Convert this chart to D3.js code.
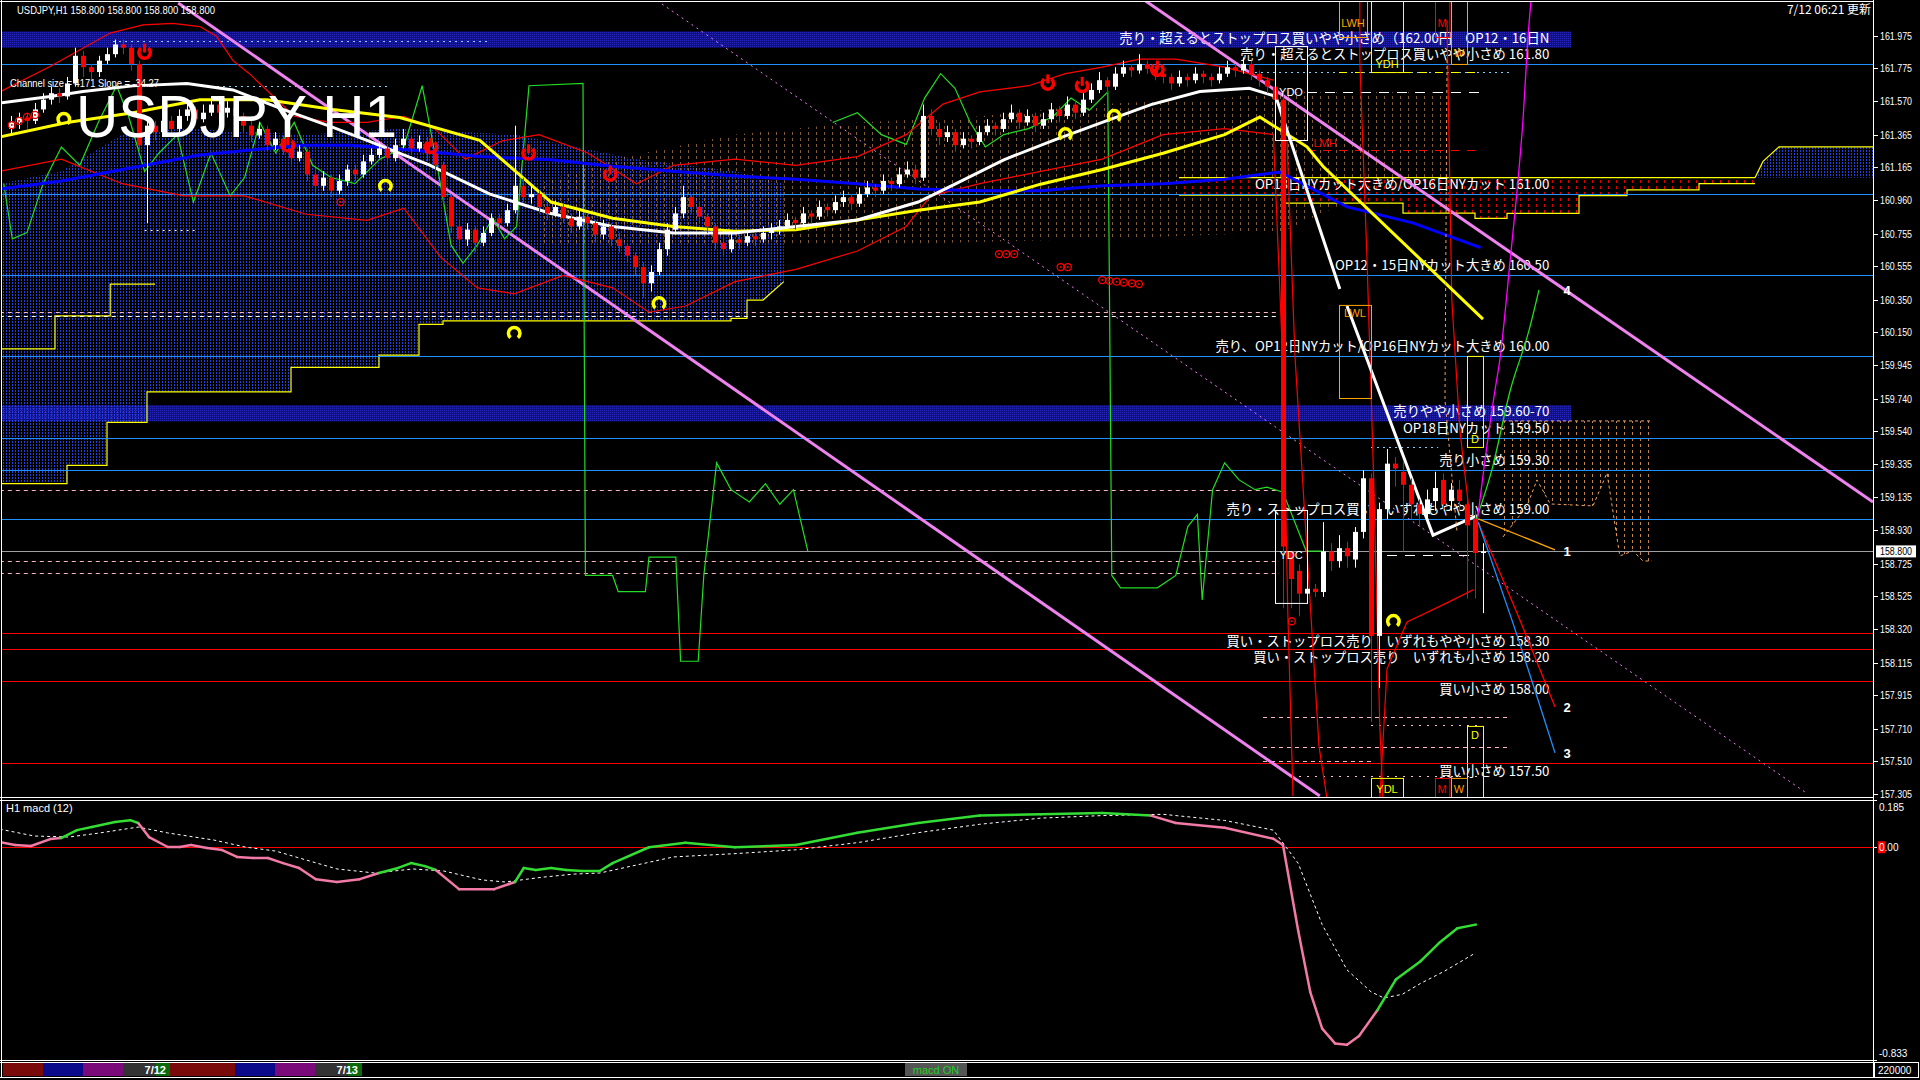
<!DOCTYPE html>
<html><head><meta charset="utf-8">
<script src="https://cdn.jsdelivr.net/npm/d3@7"></script>
<style>html,body{margin:0;padding:0;background:#000;overflow:hidden}svg{display:block}</style>
</head><body>
<svg id="c" width="1920" height="1080"></svg>
<script>
// ===================== DATA =====================
const symbolHeader = "USDJPY,H1  158.800 158.800 158.800 158.800";
const updateText = "7/12 06:21 更新";
const titleText = "USDJPY H1";
const channelText = "Channel size = 4171 Slope = -34.27";
const macdTitle = "H1  macd (12)";
const lastPrice = 158.800;
const priceTicks = [161.975,161.775,161.570,161.365,161.165,160.960,160.755,160.555,160.350,160.150,159.945,159.740,159.540,159.335,159.135,158.930,158.725,158.525,158.320,158.115,157.915,157.710,157.510,157.305];
const macdTicks = [0.185, 0.00, -0.833];
const volLabel = "220000";

// H1 candles [open, high, low, close]
const candles = [
[161.40,161.48,161.36,161.44],[161.44,161.50,161.40,161.47],[161.47,161.50,161.40,161.45],[161.45,161.56,161.43,161.52],
[161.52,161.62,161.50,161.58],[161.58,161.66,161.55,161.62],[161.62,161.65,161.56,161.60],[161.60,161.72,161.58,161.68],
[161.68,161.90,161.66,161.85],[161.85,161.88,161.72,161.78],[161.78,161.80,161.70,161.75],[161.75,161.85,161.72,161.82],
[161.82,161.90,161.80,161.86],[161.86,161.95,161.84,161.92],[161.92,161.95,161.86,161.90],[161.90,161.92,161.76,161.80],
[161.80,161.82,161.25,161.30],[161.30,161.46,160.82,161.42],[161.42,161.45,161.33,161.38],[161.38,161.50,161.35,161.45],
[161.45,161.48,161.36,161.40],[161.40,161.52,161.38,161.48],[161.48,161.56,161.45,161.52],[161.52,161.54,161.42,161.46],
[161.46,161.55,161.44,161.50],[161.50,161.60,161.48,161.55],[161.55,161.58,161.46,161.50],[161.50,161.57,161.47,161.53],
[161.53,161.56,161.44,161.48],[161.48,161.50,161.38,161.42],[161.42,161.45,161.32,161.36],[161.36,161.44,161.34,161.40],
[161.40,161.42,161.26,161.30],[161.30,161.38,161.27,161.34],[161.34,161.36,161.24,161.28],[161.28,161.30,161.18,161.22],
[161.22,161.30,161.20,161.26],[161.26,161.28,161.08,161.12],[161.12,161.15,161.00,161.05],[161.05,161.14,161.02,161.10],
[161.10,161.12,160.98,161.02],[161.02,161.12,161.00,161.08],[161.08,161.18,161.05,161.15],[161.15,161.18,161.08,161.12],
[161.12,161.24,161.10,161.20],[161.20,161.28,161.18,161.24],[161.24,161.32,161.22,161.28],[161.28,161.30,161.18,161.22],
[161.22,161.34,161.20,161.30],[161.30,161.40,161.28,161.34],[161.34,161.36,161.24,161.28],[161.28,161.36,161.26,161.32],
[161.32,161.35,161.20,161.25],[161.25,161.28,161.12,161.18],[161.18,161.20,160.94,160.98],[160.98,161.00,160.76,160.80],
[160.80,160.84,160.66,160.72],[160.72,160.82,160.68,160.78],[160.78,160.80,160.64,160.70],[160.70,160.80,160.68,160.76],
[160.76,160.88,160.74,160.85],[160.85,160.88,160.78,160.82],[160.82,160.94,160.80,160.90],[160.90,161.42,160.88,161.05],
[161.05,161.10,160.95,160.98],[160.98,161.06,160.94,161.00],[161.00,161.02,160.88,160.92],[160.92,160.95,160.84,160.88],
[160.88,160.96,160.86,160.92],[160.92,160.94,160.82,160.85],[160.85,160.88,160.76,160.80],[160.80,160.90,160.78,160.86],
[160.86,160.88,160.78,160.82],[160.82,160.84,160.70,160.75],[160.75,160.84,160.72,160.80],[160.80,160.82,160.68,160.72],
[160.72,160.76,160.64,160.68],[160.68,160.70,160.58,160.62],[160.62,160.64,160.50,160.55],[160.55,160.58,160.36,160.45],
[160.45,160.56,160.40,160.52],[160.52,160.70,160.50,160.66],[160.66,160.82,160.62,160.78],[160.78,160.92,160.75,160.88],
[160.88,161.05,160.85,160.98],[160.98,161.00,160.88,160.92],[160.92,160.95,160.82,160.86],[160.86,160.88,160.76,160.80],
[160.80,160.82,160.66,160.70],[160.70,160.74,160.62,160.66],[160.66,160.76,160.64,160.72],[160.72,160.75,160.66,160.70],
[160.70,160.78,160.68,160.74],[160.74,160.76,160.68,160.72],[160.72,160.80,160.70,160.76],[160.76,160.82,160.72,160.78],
[160.78,160.84,160.75,160.80],[160.80,160.88,160.78,160.84],[160.84,160.86,160.78,160.82],[160.82,160.92,160.80,160.88],
[160.88,160.90,160.82,160.86],[160.86,160.96,160.84,160.92],[160.92,160.94,160.86,160.90],[160.90,160.99,160.88,160.95],
[160.95,161.02,160.92,160.98],[160.98,161.00,160.90,160.94],[160.94,161.04,160.92,161.00],[161.00,161.08,160.98,161.04],
[161.04,161.06,160.98,161.02],[161.02,161.12,161.00,161.08],[161.08,161.10,161.02,161.06],[161.06,161.16,161.04,161.12],
[161.12,161.20,161.10,161.15],[161.15,161.18,161.06,161.10],[161.10,161.55,161.08,161.48],[161.48,161.52,161.36,161.40],
[161.40,161.44,161.30,161.35],[161.35,161.42,161.32,161.38],[161.38,161.40,161.26,161.30],[161.30,161.38,161.28,161.34],
[161.34,161.36,161.28,161.32],[161.32,161.42,161.30,161.38],[161.38,161.46,161.36,161.42],[161.42,161.44,161.36,161.40],
[161.40,161.50,161.38,161.46],[161.46,161.55,161.44,161.50],[161.50,161.52,161.40,161.44],[161.44,161.52,161.42,161.48],
[161.48,161.50,161.38,161.42],[161.42,161.50,161.40,161.46],[161.46,161.56,161.44,161.52],[161.52,161.54,161.44,161.48],
[161.48,161.60,161.46,161.55],[161.55,161.57,161.46,161.50],[161.50,161.62,161.48,161.58],[161.58,161.68,161.56,161.64],
[161.64,161.75,161.62,161.70],[161.70,161.72,161.62,161.66],[161.66,161.78,161.64,161.74],[161.74,161.82,161.72,161.78],
[161.78,161.80,161.72,161.76],[161.76,161.86,161.74,161.80],[161.80,161.82,161.74,161.77],[161.77,161.79,161.70,161.74],
[161.74,161.76,161.68,161.72],[161.72,161.74,161.64,161.68],[161.68,161.76,161.66,161.72],[161.72,161.74,161.66,161.70],
[161.70,161.78,161.68,161.74],[161.74,161.76,161.68,161.72],[161.72,161.74,161.66,161.70],[161.70,161.78,161.68,161.74],
[161.74,161.82,161.72,161.78],[161.78,161.80,161.72,161.76],[161.76,161.84,161.74,161.80],[161.80,161.82,161.70,161.74],
[161.74,161.76,161.66,161.70],[161.70,161.72,161.62,161.66],[161.66,161.68,161.54,161.58],[161.58,161.62,158.45,158.83],
[158.80,158.80,158.45,158.63],[158.68,158.72,158.40,158.54],[158.54,158.60,158.50,158.57],[158.57,158.60,158.52,158.55],
[158.55,158.98,158.52,158.80],[158.80,158.85,158.68,158.74],[158.74,158.90,158.70,158.82],[158.82,158.86,158.70,158.77],
[158.75,158.95,158.70,158.92],[158.92,159.30,158.88,159.25],[159.25,159.28,157.75,158.28],[158.28,159.10,157.96,159.06],
[159.06,159.43,159.00,159.34],[159.34,159.38,159.20,159.31],[159.29,159.35,158.80,159.21],[159.21,159.25,159.00,159.09],
[159.09,159.12,158.95,159.03],[159.03,159.18,158.98,159.12],[159.11,159.29,159.05,159.19],[159.24,159.28,159.05,159.09],
[159.11,159.22,159.05,159.18],[159.18,159.24,159.05,159.11],[159.09,159.12,158.51,158.96],[159.00,159.05,158.51,158.79],
[158.79,158.85,158.42,158.80]
];

// moving averages [barIndex, price]
const whiteMA = [[-1.4,161.56],[4.9,161.60],[9,161.63],[15.25,161.665],[22,161.68],[27.75,161.64],[34,161.52],[40.25,161.41],[44.5,161.33],[48.6,161.25],[52.2,161.18],[59.8,161.0],[67.5,160.88],[75.2,160.80],[82.8,160.76],[90.5,160.76],[98.1,160.80],[105.8,160.84],[113.4,160.95],[118,161.06],[124.1,161.21],[130.3,161.33],[136.4,161.44],[142.5,161.55],[148.6,161.63],[154.8,161.65],[157.8,161.605],[158.25,161.578],[166.1,160.415]];
const whiteZig = [[167,160.31],[177.75,158.90],[183.25,159.02]];
const yellowMA = [[-1.4,161.35],[7,161.44],[15.25,161.50],[23.6,161.58],[32,161.58],[40.25,161.52],[48.6,161.47],[58.6,161.33],[67.5,160.95],[75.2,160.85],[82.8,160.80],[90.5,160.77],[98.1,160.78],[105.8,160.84],[113.4,160.9],[121.1,160.95],[128.7,161.06],[136.4,161.15],[144,161.25],[151.7,161.365],[156.1,161.473],[162,161.29],[164,161.17],[184,160.23]];
const blueMA = [[-1.4,161.03],[6.3,161.08],[13.9,161.15],[23.6,161.24],[36.1,161.30],[42.4,161.30],[50,161.27],[58.6,161.23],[67.5,161.21],[75.2,161.17],[82.8,161.14],[90.5,161.11],[98.1,161.09],[105.8,161.063],[113.4,161.03],[121.1,161.02],[128.7,161.02],[136.4,161.05],[144,161.063],[151.7,161.09],[158.6,161.135],[167,160.92],[175.2,160.822],[183.7,160.67]];

// red envelope lines
const redUpper = [[-1.4,161.628],[4.7,161.78],[12.4,161.99],[16.5,162.04],[20.2,162.05],[23.6,162.03],[25.7,161.97],[27.75,161.82],[29.8,161.74],[35.4,161.478],[39.9,161.44],[44.5,161.44],[49.1,161.478],[53,161.40],[56.8,161.214],[61.4,161.327],[66,161.365],[72.1,161.252],[78.2,161.063],[82.8,161.176],[90.5,161.214],[98.1,161.176],[105.8,161.23],[111.9,161.365],[116.5,161.553],[121.1,161.628],[127.2,161.666],[131.8,161.74],[136.4,161.78],[141,161.83],[145.6,161.83],[151.7,161.78],[157.8,161.70]];
const redLower = [[-1.4,161.139],[6.3,161.214],[13.9,161.063],[21.6,160.988],[29.2,160.988],[36.9,160.875],[44.5,160.837],[49.1,160.912],[53.7,160.611],[58.3,160.422],[62.9,160.385],[69,160.498],[75.2,160.422],[79.75,160.272],[84.3,160.31],[90.5,160.46],[98.1,160.536],[105.8,160.649],[111.9,160.80],[114.95,160.988],[121.1,161.063],[128.7,161.139],[136.4,161.214],[144,161.365],[151.7,161.402],[157.8,161.365],[159,159.933],[159.6,158.426],[160.25,157.295]];
const redPost1 = [[159.5,161.33],[160.5,160.0],[162,158.8],[163.5,157.6],[164.5,157.28]];
const redPost2 = [[168.6,162.19],[168.6,161.825],[169.5,160.6],[170.3,159.3],[171.1,157.726],[171.5,157.27]];
const redPost3 = [[171.1,157.27],[172,158.077],[174.5,158.366],[179.5,158.483],[182.75,158.563]];
const redPost4 = [[179.5,162.07],[180.1,160.35],[181.1,159.55],[182.4,158.99]];

// trend lines
const trendA = [[20.9,162.175],[163.6,157.295]];
const trendB = [[141.75,162.19],[232.75,159.104]];
const trendC = [[80.75,162.19],[224.4,157.314]];

// green lagging lines
const green1 = [[-0.9,161.063],[0.16,160.724],[2.0,160.762],[4.0,161.063],[6.3,161.289],[8.6,161.176],[10.9,161.44],[13.2,161.666],[14.7,161.478],[16.7,161.139],[18.5,161.252],[20.8,161.365],[22.8,160.95],[25,161.252],[27.4,160.988],[29.2,161.101],[31.1,161.44],[33.1,161.252],[35.4,161.44],[37.7,161.176],[40,161.101],[43,161.063],[46.1,161.214],[49.1,161.289],[51.4,161.666],[53.4,161.139],[55,160.686],[56.5,160.573],[58.3,160.686],[60.2,160.852],[61.7,160.724],[63.2,160.8],[64.75,161.666],[71.5,161.68],[71.8,158.652],[75.2,158.652],[75.9,158.553],[79.3,158.553],[79.75,158.765],[83.1,158.765],[83.7,158.124],[85.9,158.124],[86.6,158.652],[88.2,159.345],[90,159.18],[92.3,159.104],[94.3,159.217],[96.1,159.09],[97.8,159.18],[99.6,158.802]];
const green2 = [[102.7,161.44],[105.8,161.5],[108.8,161.365],[111.9,161.305],[114.2,161.59],[116.2,161.74],[118,161.65],[119.9,161.44],[121.8,161.289],[124.1,161.365],[127.2,161.402],[130.3,161.478],[132.5,161.59],[134.8,161.515],[137.1,161.628],[137.6,158.652],[138.7,158.576],[143.3,158.576],[145.6,158.652],[147.1,158.953],[148.3,159.028],[148.9,158.501],[150.2,159.18],[151.7,159.345],[153.5,159.24],[155.5,159.18],[157,159.195],[159,159.164],[161.9,158.802],[163.9,158.802]];

// projections from last bar
const projOrange = [[183.4,159.0],[193,158.81]];
const projRed = [[183.4,158.98],[188.6,158.38],[193,157.843]];
const projBlue = [[183.4,158.98],[187.6,158.38],[193,157.56]];
const projGreen = [[183,158.975],[185.1,159.30],[187.4,159.79],[189.75,160.16],[191,160.41]];
const projMagenta = [[183.25,158.975],[184.25,159.363],[185.5,159.793],[186.1,159.978],[187.4,160.594],[188.6,161.21],[189,161.455],[189.6,161.947],[190,162.19]];
const projPeach = [[179.5,161.824],[179.25,159.73],[180.75,158.92]];
const projLabels = [[194.5,158.80,"1"],[194.5,157.843,"2"],[194.5,157.56,"3"],[194.5,160.41,"4"]];

// clouds
const blueCloudTop = [[-1.4,161.063],[6.3,161.139],[13.9,161.365],[21.6,161.402],[36.9,161.365],[49.1,161.402],[62.9,161.365],[78.2,161.214],[90.5,161.139],[96.6,161.063]];
const blueCloudBot = [[-1.4,159.217],[7,159.217],[7,159.33],[12,159.33],[12,159.594],[17,159.594],[17,159.782],[35,159.782],[35,159.933],[46,159.933],[46,160.008],[51,160.008],[51,160.197],[54,160.197],[54,160.219],[90,160.219],[90,160.234],[92,160.234],[92,160.347],[94,160.347],[96.6,160.46]];
const kijunLeft = [[-1.4,160.046],[5.5,160.046],[5.5,160.25],[12.4,160.25],[12.4,160.445],[18,160.445]];
const peachCloudTop = [[66,161.063],[75.2,161.214],[90.5,161.365],[105.8,161.44],[121.1,161.478],[136.4,161.553],[151.7,161.59],[158.6,161.628],[179.2,161.628]];
const peachCloudBot = [[66,160.686],[105.8,160.686],[136.4,160.724],[158.6,160.762],[167,160.95],[179.2,160.95]];
const futureRedTop = [[146,161.10],[218,161.10]];
const futureRedBot = [[146,160.993],[159,160.993],[159,160.944],[174,160.944],[174,160.882],[183,160.882],[183,160.85],[187,160.85],[187,160.88],[196,160.88],[196,160.99],[202,160.99],[202,161.025],[211,161.025],[211,161.063],[218,161.063]];
const futureBlueTop = [[218,161.10],[219,161.20],[221,161.29],[233,161.29]];
const futureBlueBot = [[218,161.10],[233,161.10]];
const lowerPeachTop = [[186.5,159.603],[205.1,159.603]];
const lowerPeachBot = [[186.5,158.889],[189.5,159.08],[190.75,159.24],[192.4,159.092],[197.75,159.08],[199.5,159.283],[201.1,158.772],[202.75,158.803],[204,158.741],[205.1,158.741]];

// horizontal levels
const blueLevels = [161.80,161.00,160.50,160.00,159.50,159.30,159.00];
const redLevels = [158.30,158.20,158.00,157.50];
const bands = [[161.90,162.00],[159.60,159.70]];
const bandEnd = 195;
const levelLabels = [
 [161.90,"売り・超えるとストップロス買いやや小さめ（162.00円　OP12・16日N"],
 [161.80,"売り・超えるとストップロス買いやや小さめ 161.80"],
 [161.00,"OP18日NYカット大きめ/OP16日NYカット 161.00"],
 [160.50,"OP12・15日NYカット大きめ 160.50"],
 [160.00,"売り、OP12日NYカット/OP16日NYカット大きめ 160.00"],
 [159.60,"売りやや小さめ 159.60-70"],
 [159.50,"OP18日NYカット 159.50"],
 [159.30,"売り小さめ 159.30"],
 [159.00,"売り・ストップロス買い　いずれもやや小さめ 159.00"],
 [158.30,"買い・ストップロス売り　いずれもやや小さめ 158.30"],
 [158.20,"買い・ストップロス売り　いずれも小さめ 158.20"],
 [158.00,"買い小さめ 158.00"],
 [157.50,"買い小さめ 157.50"]
];
const labelEndBar = 192.3;
// dashed horizontal segments [price, fromBar, toBar, color, dash]
const dashSegs = [
 [160.274,-1.4,158.6,"#ffb6c1","4,4"],[160.25,-1.4,158.6,"#ffffff","4,4"],[159.18,-1.4,158.6,"#ffb6c1","4,4"],
 [158.74,-1.4,158.6,"#ffb6c1","4,4"],[158.667,-1.4,158.6,"#ffb6c1","4,4"],
 [157.781,156.5,187.4,"#ffb6c1","4,4"],[157.597,156.5,187.4,"#ffb6c1","4,4"],[157.51,156.5,170,"#ffb6c1","4,4"],
 [157.73,170,184,"#ffc0cb","2,6"],[157.418,160,184,"#ffc0cb","2,6"],
 [161.94,12.75,60,"#87cefa","2,4"],[161.664,25.75,47,"#87cefa","2,4"],[160.777,16.7,23,"#ffffff","2,4"],
 [161.75,155.5,187.4,"#87cefa","2,4"],[161.75,166,184,"#ffff00","8,8"],[161.627,162,184,"#ffffff","10,8"],
 [161.27,162,183.5,"#ff0000","8,8"],[159.44,170,178.4,"#87cefa","2,4"],[158.778,172,183,"#ffffff","10,8"]
];
// boxes [fromBar, toBar, topPrice, bottomPrice, color, label, labelPrice]
const boxes = [
 [158,162,161.91,161.332,"#ffffff","YDO",161.63],
 [170,174,162.19,161.75,"#ffff00","YDH",161.80],
 [166,169.5,162.19,161.966,"#ffa500","LWH",162.05],
 [178,179.8,162.19,161.966,"#ff0000","M",162.05],
 [180,182,162.19,161.80,"#ffa500","W",161.87],
 [166,170,160.317,159.744,"#ffa500","LWL",160.27],
 [182,184,160.003,159.443,"#ffff00","D",159.49],
 [158,162,159.055,158.483,"#ffffff","YDC",158.778],
 [182,184,157.726,157.27,"#ffff00","D",157.67],
 [170,174,157.406,157.27,"#ffff00","YDL",157.34],
 [178,179.8,157.406,157.27,"#ff0000","M",157.34],
 [180,182,157.406,157.27,"#ffa500","W",157.34]
];
const textMarks = [[164.25,161.314,"LMH","#ff0000"]];
// signal markers [bar, price]
const yellowMarks = [[6.6,161.46],[46.8,161.048],[62.9,160.143],[81,160.325],[131.8,161.365],[137.9,161.478],[172.8,158.37]];
const redMarks = [[16.7,161.87],[34.6,161.30],[52.5,161.29],[64.7,161.25],[74.9,161.12],[129.6,161.68],[133.9,161.665],[143.3,161.765]];
const redDots = [[0.1,161.424],[1,161.449],[2,161.474],[3,161.486],[41.2,160.95],[123.5,160.63],[124.4,160.63],[125.4,160.63],[131.2,160.55],[132.1,160.55],[136.4,160.47],[137.3,160.465],[138.2,160.46],[139.1,160.455],[140.1,160.45],[141,160.445],[160.1,158.37]];

// MACD [bar, value]
const macdMain = [[-1.4,0.020],[0.5,0.009],[2.5,0.005],[4.9,0.032],[6.25,0.036],[8.25,0.067],[10.1,0.079],[13,0.099],[14.9,0.106],[15.9,0.095],[17.25,0.040],[19.6,0.001],[21.1,0.001],[22.5,0.009],[24.5,-0.003],[26.4,-0.011],[28.25,-0.038],[30.25,-0.042],[32.1,-0.042],[34,-0.062],[36,-0.081],[38.1,-0.125],[40.75,-0.136],[43.6,-0.125],[46,-0.101],[48.4,-0.081],[50,-0.062],[51.75,-0.074],[53.1,-0.089],[56,-0.164],[60.4,-0.164],[62.25,-0.144],[63,-0.136],[64.1,-0.081],[65.6,-0.089],[67.5,-0.081],[69.4,-0.089],[71.4,-0.093],[73.6,-0.093],[75.2,-0.062],[79.75,0.0],[84.3,0.018],[90.5,0.0],[98.1,0.009],[105.8,0.057],[113.4,0.095],[121.1,0.124],[128.7,0.129],[136.4,0.134],[142.5,0.124],[145.6,0.095],[151.7,0.076],[157.8,0.033],[159,0.009],[160.9,-0.327],[162.4,-0.566],[163.9,-0.71],[165.5,-0.768],[167,-0.773],[168.5,-0.739],[170.8,-0.638],[173.1,-0.518],[176.2,-0.446],[178.5,-0.375],[180.8,-0.317],[183.1,-0.303]];
const macdSignal = [[-1.4,0.071],[2.9,0.044],[7.25,0.040],[11.1,0.056],[15.9,0.079],[19.6,0.056],[25.4,0.028],[29.25,0.001],[33.1,-0.015],[36.9,-0.05],[40.75,-0.085],[45.5,-0.101],[50.25,-0.085],[54.1,-0.093],[58.9,-0.128],[61.75,-0.136],[66.5,-0.117],[70.4,-0.105],[73.6,-0.101],[82.8,-0.038],[90.5,-0.025],[98.1,-0.010],[105.8,0.018],[113.4,0.057],[121.1,0.09],[128.7,0.114],[136.4,0.124],[144,0.129],[151.7,0.105],[157.8,0.067],[160.9,-0.063],[163.9,-0.303],[167,-0.48],[170,-0.566],[171.6,-0.59],[173.9,-0.576],[176.2,-0.533],[179.2,-0.485],[183.1,-0.413]];

// bottom session bar [label, color, width-units]
const sessionCells = [["","#7a0a0a",40],["","#0a0a8a",40],["","#7a0a7a",40],["7/12","#333333",47],["","#7a0a0a",65],["","#0a0a8a",40],["","#7a0a7a",40],["7/13","#333333",47]];

// ===================== RENDER =====================
const svg = d3.select("#c");
const PR = 1873, PB = 797;
const x = d3.scaleLinear().domain([-1.375, 232.75]).range([0, PR]);
const y = d3.scaleLinear().domain([157.2885, 162.1935]).range([PB, 0]);
const ym = d3.scaleLinear().domain([-0.833, 0.185]).range([1060, 800]);
const line = d3.line().x(d=>x(d[0])).y(d=>y(d[1]));
const poly = (top,bot)=> line(top.concat(bot.slice().reverse())) + "Z";
const JP = "'Noto Sans CJK JP','Noto Sans',sans-serif";
const SANS = "'Liberation Sans',Arial,sans-serif";

svg.append("rect").attr("width",1920).attr("height",1080).attr("fill","#000");
const defs = svg.append("defs");
defs.append("clipPath").attr("id","cm").append("rect").attr("x",2).attr("y",2).attr("width",PR-2).attr("height",PB-2);
defs.append("clipPath").attr("id","cmacd").append("rect").attr("x",2).attr("y",801).attr("width",PR-2).attr("height",259);
function pattern(id,w,h,color,rw,rh){
  const p = defs.append("pattern").attr("id",id).attr("patternUnits","userSpaceOnUse").attr("width",w).attr("height",h);
  p.append("rect").attr("width",rw).attr("height",rh).attr("fill",color);
}
pattern("blueDots",3,3,"#1f3fe0",1,2);
pattern("peachDash",8,6,"#f4a460",1,3);
pattern("redDash",8,6,"#e00000",1,3);
pattern("bandDots",2,2,"#2626b8",1,1);

const g = svg.append("g").attr("clip-path","url(#cm)");

// bands
bands.forEach(b=>{
  g.append("rect").attr("x",x(-1.375)).attr("y",y(b[1])).attr("width",x(bandEnd)-x(-1.375)).attr("height",y(b[0])-y(b[1])).attr("fill","#10107e");
  g.append("rect").attr("x",x(-1.375)).attr("y",y(b[1])).attr("width",x(bandEnd)-x(-1.375)).attr("height",y(b[0])-y(b[1])).attr("fill","url(#bandDots)");
});
// clouds
g.append("path").attr("d",poly(blueCloudTop,blueCloudBot)).attr("fill","url(#blueDots)");
g.append("path").attr("d",poly(peachCloudTop,peachCloudBot)).attr("fill","url(#peachDash)").attr("opacity",0.55);
g.append("path").attr("d",poly(futureRedTop,futureRedBot)).attr("fill","url(#redDash)");
g.append("path").attr("d",poly(futureBlueTop,futureBlueBot)).attr("fill","url(#blueDots)");
g.append("path").attr("d",poly(lowerPeachTop,lowerPeachBot)).attr("fill","url(#peachDash)").attr("opacity",0.8);
[lowerPeachTop,lowerPeachBot].forEach(l=>g.append("path").attr("d",line(l)).attr("fill","none").attr("stroke","#f4a460").attr("stroke-dasharray","3,3"));
[blueCloudBot,kijunLeft,futureRedTop,futureRedBot,futureBlueTop].forEach(l=>g.append("path").attr("d",line(l)).attr("fill","none").attr("stroke","#ffff00").attr("stroke-width",1.2));

// level lines
blueLevels.forEach(p=>g.append("line").attr("x1",0).attr("x2",PR).attr("y1",Math.round(y(p))+0.5).attr("y2",Math.round(y(p))+0.5).attr("stroke","#1e90ff"));
redLevels.forEach(p=>g.append("line").attr("x1",0).attr("x2",PR).attr("y1",Math.round(y(p))+0.5).attr("y2",Math.round(y(p))+0.5).attr("stroke","#ff0000"));
g.append("line").attr("x1",0).attr("x2",PR).attr("y1",Math.round(y(lastPrice))+0.5).attr("y2",Math.round(y(lastPrice))+0.5).attr("stroke","#a0a0a0");
dashSegs.forEach(s=>g.append("line").attr("x1",x(s[1])).attr("x2",x(s[2])).attr("y1",Math.round(y(s[0]))+0.5).attr("y2",Math.round(y(s[0]))+0.5).attr("stroke",s[3]).attr("stroke-dasharray",s[4]));

// labels
levelLabels.forEach(l=>{
  const above = l[0] > lastPrice;
  g.append("text").attr("x",x(labelEndBar)).attr("y",y(l[0]) + (above?-5:13)).attr("text-anchor","end")
   .attr("font-family",JP).attr("font-size",13.3).attr("fill","#fff").text(l[1]);
});

// trend lines
g.append("path").attr("d",line(trendC)).attr("fill","none").attr("stroke","#ee82ee").attr("stroke-dasharray","2,4");
g.append("path").attr("d",line(trendA)).attr("fill","none").attr("stroke","#ee82ee").attr("stroke-width",3);
g.append("path").attr("d",line(trendB)).attr("fill","none").attr("stroke","#ee82ee").attr("stroke-width",3);

// green lines
[green1,green2].forEach(l=>g.append("path").attr("d",line(l)).attr("fill","none").attr("stroke","#22dd22").attr("stroke-width",1.2));
// red thin lines
[redUpper,redLower,redPost1,redPost2,redPost3,redPost4].forEach(l=>g.append("path").attr("d",line(l)).attr("fill","none").attr("stroke","#ff0000").attr("stroke-width",1.2));
// MAs
g.append("path").attr("d",line(blueMA)).attr("fill","none").attr("stroke","#0000ff").attr("stroke-width",3);
g.append("path").attr("d",line(yellowMA)).attr("fill","none").attr("stroke","#ffff00").attr("stroke-width",3);
g.append("path").attr("d",line(whiteMA)).attr("fill","none").attr("stroke","#ffffff").attr("stroke-width",3);
g.append("path").attr("d",line(whiteZig)).attr("fill","none").attr("stroke","#ffffff").attr("stroke-width",3);

// projections
g.append("path").attr("d",line(projPeach)).attr("fill","none").attr("stroke","#f4a460").attr("stroke-dasharray","3,3");
[[projOrange,"#ffa500"],[projRed,"#ff0000"],[projBlue,"#1e90ff"],[projGreen,"#22dd22"],[projMagenta,"#ff00ff"]].forEach(p=>
  g.append("path").attr("d",d3.line().curve(d3.curveMonotoneX).x(d=>x(d[0])).y(d=>y(d[1]))(p[0])).attr("fill","none").attr("stroke",p[1]).attr("stroke-width",1.3));
projLabels.forEach(p=>g.append("text").attr("x",x(p[0])).attr("y",y(p[1])+5).attr("text-anchor","middle").attr("font-family",SANS).attr("font-weight","bold").attr("font-size",13).attr("fill","#fff").text(p[2]));

// candles
const cg = g.append("g");
cg.selectAll("line").data(candles).join("line")
  .attr("x1",(d,i)=>Math.round(x(i))+0.5).attr("x2",(d,i)=>Math.round(x(i))+0.5)
  .attr("y1",d=>y(d[1])).attr("y2",d=>y(d[2])).attr("stroke",d=>d[3]>=d[0]?"#fff":"#f00");
cg.selectAll("rect").data(candles).join("rect")
  .attr("x",(d,i)=>Math.round(x(i))-2).attr("width",5)
  .attr("y",d=>y(Math.max(d[0],d[3]))).attr("height",d=>Math.max(1,Math.abs(y(d[0])-y(d[3]))))
  .attr("fill",d=>d[3]>=d[0]?"#fff":"#f00");

// boxes
boxes.forEach(b=>{
  g.append("rect").attr("x",x(b[0])+0.5).attr("y",y(b[2])+0.5).attr("width",x(b[1])-x(b[0])).attr("height",y(b[3])-y(b[2])).attr("fill","none").attr("stroke",b[4]);
  g.append("text").attr("x",(x(b[0])+x(b[1]))/2).attr("y",y(b[6])+4).attr("text-anchor","middle").attr("font-family",SANS).attr("font-size",11).attr("fill",b[4]).text(b[5]);
});
textMarks.forEach(t=>g.append("text").attr("x",x(t[0])).attr("y",y(t[1])+4).attr("text-anchor","middle").attr("font-family",SANS).attr("font-size",11).attr("fill",t[3]).text(t[2]));

// markers
const arcY = d3.arc().innerRadius(4).outerRadius(7.5).startAngle(-0.78*Math.PI).endAngle(0.78*Math.PI);
const arcR = d3.arc().innerRadius(4).outerRadius(7.5).startAngle(0.22*Math.PI).endAngle(1.78*Math.PI);
yellowMarks.forEach(m=>g.append("path").attr("d",arcY()).attr("transform",`translate(${x(m[0])},${y(m[1])})`).attr("fill","#ffff00"));
redMarks.forEach(m=>{
  g.append("path").attr("d",arcR()).attr("transform",`translate(${x(m[0])},${y(m[1])})`).attr("fill","#ff0000");
  g.append("rect").attr("x",x(m[0])-1.5).attr("y",y(m[1])-9).attr("width",3).attr("height",9).attr("fill","#ff0000");
});
redDots.forEach(m=>{
  g.append("circle").attr("cx",x(m[0])).attr("cy",y(m[1])).attr("r",3.5).attr("fill","none").attr("stroke","#ff0000").attr("stroke-width",1.3);
  g.append("circle").attr("cx",x(m[0])).attr("cy",y(m[1])).attr("r",1).attr("fill","#ff0000");
});

// big title + header texts
svg.append("text").attr("x",76).attr("y",137).attr("font-family",SANS).attr("font-size",60).attr("fill","#fff").attr("textLength",321).attr("lengthAdjust","spacingAndGlyphs").text(titleText);
svg.append("text").attr("x",17).attr("y",14).attr("font-family",SANS).attr("font-size",11).attr("fill","#fff").attr("textLength",198).attr("lengthAdjust","spacingAndGlyphs").text(symbolHeader);
svg.append("text").attr("x",10).attr("y",87).attr("font-family",SANS).attr("font-size",11).attr("fill","#fff").attr("textLength",149).attr("lengthAdjust","spacingAndGlyphs").text(channelText);
svg.append("text").attr("x",1871).attr("y",14).attr("text-anchor","end").attr("font-family",JP).attr("font-size",12).attr("fill","#fff").text(updateText);

// frame
const fr = svg.append("g").attr("stroke","#fff").attr("fill","none");
fr.append("line").attr("x1",0).attr("x2",1874).attr("y1",1.5).attr("y2",1.5);
fr.append("line").attr("x1",1.5).attr("x2",1.5).attr("y1",0).attr("y2",1078);
fr.append("line").attr("x1",1873.5).attr("x2",1873.5).attr("y1",0).attr("y2",1078);
fr.append("line").attr("x1",0).attr("x2",1874).attr("y1",797.5).attr("y2",797.5);
fr.append("line").attr("x1",0).attr("x2",1874).attr("y1",800.5).attr("y2",800.5);
fr.append("line").attr("x1",0).attr("x2",1874).attr("y1",1060.5).attr("y2",1060.5);
fr.append("line").attr("x1",0).attr("x2",1874).attr("y1",1062.5).attr("y2",1062.5);
fr.append("line").attr("x1",0).attr("x2",1874).attr("y1",1077.5).attr("y2",1077.5);
fr.append("rect").attr("x",1874.5).attr("y",1062.5).attr("width",44).attr("height",15);

// price axis
const ax = svg.append("g");
priceTicks.forEach(p=>{
  ax.append("line").attr("x1",1874).attr("x2",1878).attr("y1",Math.round(y(p))+0.5).attr("y2",Math.round(y(p))+0.5).attr("stroke","#fff");
  ax.append("text").attr("x",1880).attr("y",y(p)+4).attr("font-family",SANS).attr("font-size",10).attr("fill","#fff").attr("textLength",32).attr("lengthAdjust","spacingAndGlyphs").text(p.toFixed(3));
});
ax.append("rect").attr("x",1876).attr("y",y(lastPrice)-6).attr("width",40).attr("height",12).attr("fill","#fff");
ax.append("text").attr("x",1880).attr("y",y(lastPrice)+4).attr("font-family",SANS).attr("font-size",10).attr("fill","#000").attr("textLength",32).attr("lengthAdjust","spacingAndGlyphs").text(lastPrice.toFixed(3));

// MACD panel
const gm = svg.append("g").attr("clip-path","url(#cmacd)");
gm.append("line").attr("x1",0).attr("x2",PR).attr("y1",Math.round(ym(0))+0.5).attr("y2",Math.round(ym(0))+0.5).attr("stroke","#ff0000");
const mline = d3.line().x(d=>x(d[0])).y(d=>ym(d[1]));
gm.append("path").attr("d",mline(macdSignal)).attr("fill","none").attr("stroke","#fff").attr("stroke-dasharray","3,3");
function interp(arr,t){
  if(t<=arr[0][0]) return arr[0][1];
  for(let k=0;k<arr.length-1;k++){ if(t<=arr[k+1][0]){ const f=(t-arr[k][0])/(arr[k+1][0]-arr[k][0]); return arr[k][1]+f*(arr[k+1][1]-arr[k][1]); } }
  return arr[arr.length-1][1];
}
for(let k=0;k<macdMain.length-1;k++){
  const a=macdMain[k], b=macdMain[k+1];
  const up = (a[1]+b[1])/2 >= interp(macdSignal,(a[0]+b[0])/2);
  gm.append("path").attr("d",mline([a,b])).attr("stroke",up?"#33dd33":"#f27aa6").attr("stroke-width",2.5).attr("fill","none").attr("stroke-linecap","round");
}
svg.append("text").attr("x",6).attr("y",812).attr("font-family",SANS).attr("font-size",11).attr("fill","#fff").text(macdTitle);
macdTicks.forEach(v=>{
  const yy = Math.min(Math.max(ym(v),807),1053);
  if(v===0) svg.append("rect").attr("x",1878).attr("y",yy-6).attr("width",7).attr("height",12).attr("fill","#ff0000");
  svg.append("line").attr("x1",1874).attr("x2",1877).attr("y1",Math.round(ym(v))+0.5).attr("y2",Math.round(ym(v))+0.5).attr("stroke","#fff");
  svg.append("text").attr("x",1879).attr("y",yy+4).attr("font-family",SANS).attr("font-size",10).attr("fill","#fff").text(v===0?"0.00":v.toFixed(3));
});
svg.append("text").attr("x",1878).attr("y",1074).attr("font-family",SANS).attr("font-size",10).attr("fill","#fff").text(volLabel);

// session bar
let sx = 3;
const sb = svg.append("g");
sessionCells.forEach(c=>{
  sb.append("rect").attr("x",sx).attr("y",1063).attr("width",c[2]).attr("height",13).attr("fill",c[1]);
  if(c[0]){
    sb.append("rect").attr("x",sx+c[2]-14).attr("y",1063).attr("width",14).attr("height",13).attr("fill","#0a6a0a");
    sb.append("text").attr("x",sx+c[2]-4).attr("y",1074).attr("text-anchor","end").attr("font-family",SANS).attr("font-weight","bold").attr("font-size",11).attr("fill","#fff").text(c[0]);
  }
  sx += c[2];
});
sb.append("rect").attr("x",905).attr("y",1063).attr("width",62).attr("height",13).attr("fill","#555");
sb.append("text").attr("x",936).attr("y",1074).attr("text-anchor","middle").attr("font-family",SANS).attr("font-size",11).attr("fill","#22cc22").text("macd ON");
</script>
</body></html>
